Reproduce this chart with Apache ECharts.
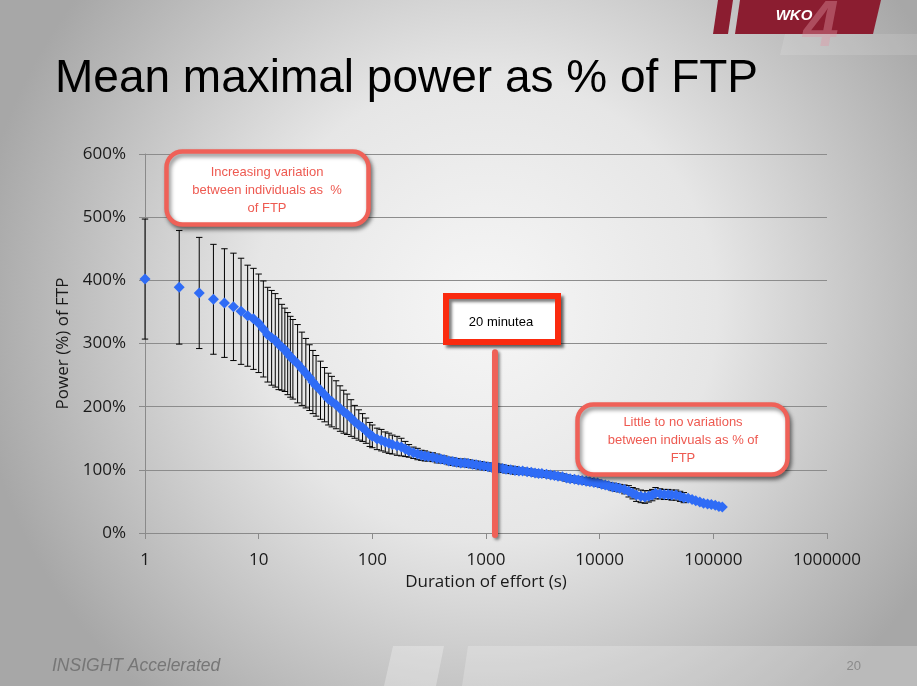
<!DOCTYPE html>
<html>
<head>
<meta charset="utf-8">
<script src="https://cdn.jsdelivr.net/npm/echarts@6/dist/echarts.min.js"></script>
<style>
html,body{margin:0;padding:0;width:917px;height:686px;overflow:hidden;}
#c{width:917px;height:686px;}
</style>
</head>
<body>
<div id="c"></div>
<script>
// ---- data ----
const durations = [1,2,3,4,5,6,7,8,9,10,11,12,13,14,15,16,17,18,19,20,22,24,26,28,30,32,35,38,41,44,48,52,56,60,65,70,76,82,88,95,100,110,120,130,140,150,165,180,195,210,230,250,270,290,310,340,370,400,430,470,510,550,600,650,700,760,820,890,960,1040,1120,1200,1300,1400,1500,1650,1800,1950,2100,2300,2500,2700,2900,3100,3400,3700,4000,4300,4700,5100,5500,6000,6500,7000,7600,8200,8900,9600,10400,11200,12000,13000,14000,15000,16500,18000,19500,21000,23000,25000,27000,29000,31000,34000,37000,40000,43000,47000,51000,55000,60000,65000,70000,76000,82000,89000,96000,104000,112000,120000];
const meanPct = [402,389,380,370,364,358,351,344,339,332,323,314,309,305,299,294,290,284,279,275,268,260,253,246,239,233,226,219,212,208,203,197,192,188,182,176,171,167,162,156,153,149,147,144,142,140,138,136,133,130,127,125,123,122,121,120,118,117,116,114,113,112,111,111,110,109,108,107,106,105,104,104,103,102,101,100,99,98,98,97,96,95,94,94,93,92,91,90,89,87,86,85,84,83,82,81,80,79,77,76,75,73,72,71,69,66,63,60,58,57,58,60,63,62,61,61,60,60,58,56,55,53,51,49,47,46,45,44,42,41];
const sdPct = [95,90,88,87,86,85,84,80,80,78,76,75,75,74,72,68,66,65,64,63,62,58,55,52,50,48,46,43,41,40,38,36,34,32,29,26,24,22,20,19,18,17,17,16,16,15,15,14,12,10,9,9,8,8,7,7,7,6,6,6,6,6,6,6,6,6,6,6,6,6,6,6,6,6,6,6,6,5,5,5,5,5,5,5,5,5,5,5,5,5,5,5,5,5,5,5,5,5,5,5,5,6,6,6,7,9,9,10,10,10,9,9,9,8,8,8,8,8,8,8,3,2,2,2,2,2,2,2,2,2];
const xTicks = [1,10,100,1000,10000,100000,1000000];
const yTicks = [0,100,200,300,400,500,600];
const twentyMinutes = 1200;      // seconds
const markerLineTop = 286;       // % value where the vertical marker line ends

const chart = echarts.init(document.getElementById('c'), null, {renderer:'canvas'});

const scatterData = durations.map((t,i)=>[t, meanPct[i]]);
const errData = durations.map((t,i)=>[t, meanPct[i]-sdPct[i], meanPct[i]+sdPct[i]]);

const coral = '#ef6158';
const option = {
  animation:false,
  backgroundColor:{
    type:'radial', x:0.53, y:0.45, r:0.75,
    colorStops:[{offset:0,color:'#f6f6f6'},{offset:0.45,color:'#e6e6e6'},{offset:1,color:'#a7a7a7'}]
  },
  grid:{left:145,right:90,top:154,bottom:153,containLabel:false},
  xAxis:{
    type:'log', logBase:10, min:xTicks[0], max:xTicks[xTicks.length-1],
    name:'Duration of effort (s)', nameLocation:'middle', nameGap:38,
    nameTextStyle:{fontFamily:'Open Sans',fontSize:17,color:'#1a1a1a'},
    axisLine:{show:true,lineStyle:{color:'#8a8a8a',width:1}},
    axisTick:{show:true,length:6,lineStyle:{color:'#8a8a8a'}},
    splitLine:{show:false},
    axisLabel:{fontFamily:'Open Sans',fontSize:17,color:'#1a1a1a',margin:19,
      formatter:v=>String(Math.round(v))}
  },
  yAxis:{
    type:'value', min:yTicks[0], max:yTicks[yTicks.length-1], interval:100,
    name:'Power (%) of FTP', nameLocation:'middle', nameGap:70,
    nameTextStyle:{fontFamily:'Open Sans',fontSize:17,color:'#1a1a1a'},
    axisLine:{show:true,lineStyle:{color:'#8a8a8a',width:1}},
    axisTick:{show:true,length:6,lineStyle:{color:'#8a8a8a'}},
    splitLine:{show:true,lineStyle:{color:'#8c8c8c',width:1}},
    axisLabel:{fontFamily:'Open Sans',fontSize:17,color:'#1a1a1a',margin:19,formatter:'{value}%'}
  },
  series:[
    {
      type:'custom', name:'sd', data:errData, z:2, clip:false,
      encode:{x:0,y:[1,2]},
      renderItem:function(params, api){
        const t=api.value(0), lo=api.value(1), hi=api.value(2);
        const a=api.coord([t,hi]), b=api.coord([t,lo]);
        const w=3.2;
        const st={stroke:'#000',lineWidth:1};
        return {type:'group',children:[
          {type:'line',shape:{x1:a[0],y1:a[1],x2:b[0],y2:b[1]},style:st},
          {type:'line',shape:{x1:a[0]-w,y1:a[1],x2:a[0]+w,y2:a[1]},style:st},
          {type:'line',shape:{x1:b[0]-w,y1:b[1],x2:b[0]+w,y2:b[1]},style:st}
        ]};
      }
    },
    {
      type:'scatter', name:'mean', data:scatterData, z:3,
      symbol:'diamond', symbolSize:11,
      itemStyle:{color:'#2f6cf6',opacity:1}
    },
    {
      type:'custom', name:'marker', data:[[twentyMinutes,0,markerLineTop]], z:4, clip:false,
      encode:{x:0,y:[1,2]},
      renderItem:function(params, api){
        const a=api.coord([api.value(0),api.value(2)]), b=api.coord([api.value(0),api.value(1)]);
        return {type:'line',shape:{x1:a[0],y1:a[1],x2:b[0],y2:b[1]+2},
          style:{stroke:coral,lineWidth:6,lineCap:'round',shadowBlur:3,shadowOffsetX:2,shadowOffsetY:2,shadowColor:'rgba(0,0,0,0.45)'}};
      }
    }
  ],
  graphic:[
    // footer decoration
    {type:'polygon',z:0,shape:{points:[[468,646],[917,646],[917,686],[462,686]]},style:{fill:'rgba(255,255,255,0.22)'}},
    {type:'polygon',z:0,shape:{points:[[393,646],[444,646],[436,686],[384,686]]},style:{fill:'rgba(255,255,255,0.28)'}},
    // logo
    {type:'polygon',z:0,shape:{points:[[785,34],[917,34],[917,55],[780,55]]},style:{fill:'rgba(255,255,255,0.12)'}},
    {type:'polygon',z:1,shape:{points:[[718,0],[733,0],[728,34],[713,34]]},style:{fill:'#8b1d30'}},
    {type:'polygon',z:1,shape:{points:[[740,0],[881,0],[873,34],[735,34]]},style:{fill:'#8b1d30'}},
    {type:'text',z:2,style:{x:803,y:-4,text:'4',fontFamily:'Liberation Sans',fontStyle:'italic',fontWeight:'bold',fontSize:64,fill:'rgba(225,150,165,0.4)',textAlign:'left',textVerticalAlign:'top'}},
    {type:'text',z:3,style:{x:794,y:16,text:'WKO',fontFamily:'Liberation Sans',fontStyle:'italic',fontWeight:'bold',fontSize:15,fill:'#ffffff',textAlign:'center',textVerticalAlign:'middle'}},
    // title
    {type:'text',z:5,style:{x:55,y:79,text:'Mean maximal power as % of FTP',fontFamily:'Liberation Sans',fontSize:46,fill:'#000',textAlign:'left',textVerticalAlign:'middle'}},
    // footer text
    {type:'text',z:5,style:{x:52,y:666,text:'INSIGHT Accelerated',fontFamily:'Liberation Sans',fontStyle:'italic',fontSize:17.5,fill:'#767676',textAlign:'left',textVerticalAlign:'middle'}},
    {type:'text',z:5,style:{x:861,y:666,text:'20',fontFamily:'Liberation Sans',fontSize:13,fill:'#8a8a8a',textAlign:'right',textVerticalAlign:'middle'}},
    // annotation box 1
    {type:'rect',z:10,shape:{x:166.5,y:151.5,width:202,height:73,r:16},
      style:{fill:'#ffffff',stroke:coral,lineWidth:4.5,shadowBlur:4,shadowOffsetX:2,shadowOffsetY:3,shadowColor:'rgba(0,0,0,0.45)'}},
    {type:'text',z:11,style:{x:267,y:190,text:'Increasing variation\nbetween individuals as  %\nof FTP',fontFamily:'Liberation Sans',fontSize:13,lineHeight:18,fill:'#ee5a51',textAlign:'center',textVerticalAlign:'middle'}},
    // annotation box 2
    {type:'rect',z:10,shape:{x:577.5,y:404.5,width:210,height:70,r:16},
      style:{fill:'#ffffff',stroke:coral,lineWidth:4.5,shadowBlur:4,shadowOffsetX:2,shadowOffsetY:3,shadowColor:'rgba(0,0,0,0.45)'}},
    {type:'text',z:11,style:{x:683,y:440,text:'Little to no variations\nbetween indivuals as % of\nFTP',fontFamily:'Liberation Sans',fontSize:13,lineHeight:18,fill:'#ee5a51',textAlign:'center',textVerticalAlign:'middle'}},
    // 20 minutes box
    {type:'rect',z:10,shape:{x:446,y:296,width:112,height:46},
      style:{fill:'#ffffff',stroke:'#fa2a0e',lineWidth:6,shadowBlur:3,shadowOffsetX:3,shadowOffsetY:3,shadowColor:'rgba(0,0,0,0.5)'}},
    {type:'text',z:11,style:{x:501,y:322,text:'20 minutea',fontFamily:'Liberation Sans',fontSize:13,fill:'#000',textAlign:'center',textVerticalAlign:'middle'}}
  ]
};
chart.setOption(option);
</script>
</body>
</html>
